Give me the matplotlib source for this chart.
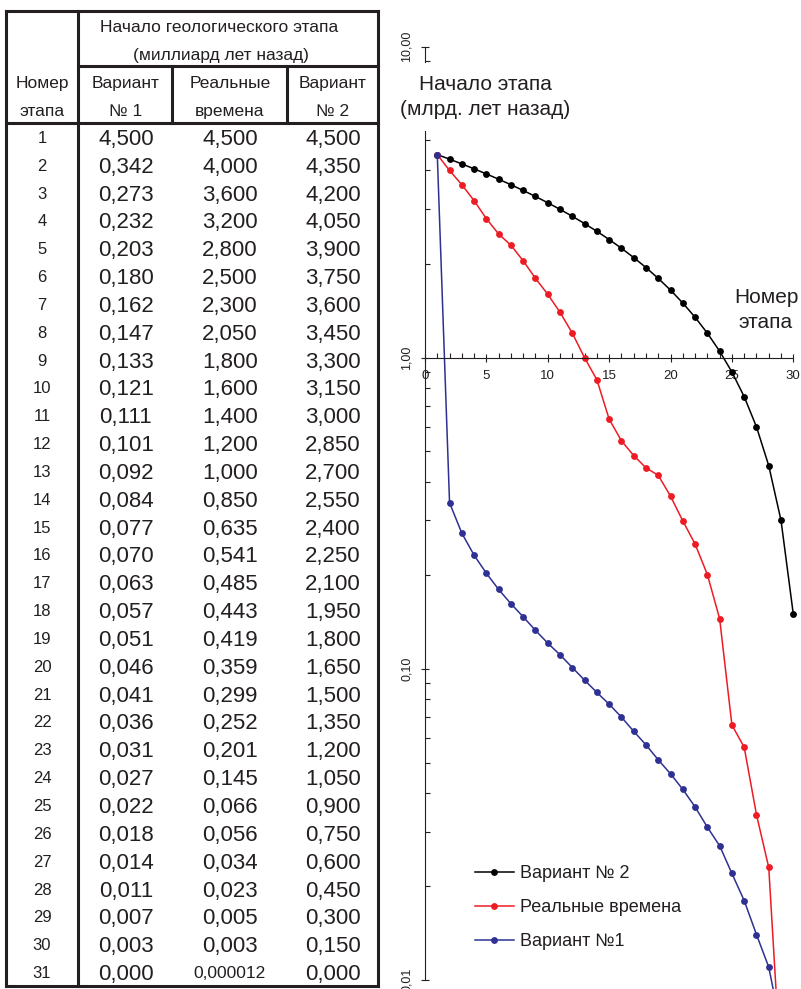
import numpy as np
import matplotlib
matplotlib.use('Agg')
import matplotlib.pyplot as plt
from matplotlib.ticker import FixedLocator, FixedFormatter, LogLocator, NullFormatter, MultipleLocator
from matplotlib.patches import Rectangle

plt.rcParams['font.family'] = ['Liberation Sans', 'DejaVu Sans']

# ---------------- data ----------------
steps = list(range(1, 32))
variant1 = [4.500, 0.342, 0.273, 0.232, 0.203, 0.180, 0.162, 0.147, 0.133, 0.121,
            0.111, 0.101, 0.092, 0.084, 0.077, 0.070, 0.063, 0.057, 0.051, 0.046,
            0.041, 0.036, 0.031, 0.027, 0.022, 0.018, 0.014, 0.011, 0.007, 0.003,
            0.000]
real_times = [4.500, 4.000, 3.600, 3.200, 2.800, 2.500, 2.300, 2.050, 1.800, 1.600,
              1.400, 1.200, 1.000, 0.850, 0.635, 0.541, 0.485, 0.443, 0.419, 0.359,
              0.299, 0.252, 0.201, 0.145, 0.066, 0.056, 0.034, 0.023, 0.005, 0.003,
              0.000012]
variant2 = [4.500, 4.350, 4.200, 4.050, 3.900, 3.750, 3.600, 3.450, 3.300, 3.150,
            3.000, 2.850, 2.700, 2.550, 2.400, 2.250, 2.100, 1.950, 1.800, 1.650,
            1.500, 1.350, 1.200, 1.050, 0.900, 0.750, 0.600, 0.450, 0.300, 0.150,
            0.000]

header_top = "Начало геологического этапа"
header_sub = "(миллиард лет назад)"
col_titles = [("Номер", "этапа"), ("Вариант", "№ 1"), ("Реальные", "времена"), ("Вариант", "№ 2")]
series_labels = ["Вариант № 2", "Реальные времена", "Вариант №1"]
series_colors = ['#000000', '#ed1c24', '#2e3192']
y_ticks = [0.01, 0.1, 1, 10]
y_tick_labels = ["0,01", "0,10", "1,00", "10,00"]
x_ticks = [0, 5, 10, 15, 20, 25, 30]
y_label = "Начало этапа\n(млрд. лет назад)"
x_label = "Номер\nэтапа"

ink = '#231f20'
W, H = 801, 989
fig = plt.figure(figsize=(W / 100, H / 100), dpi=100)

# ---------------- table ----------------
tb = fig.add_axes([0, 0, 1, 1])
tb.set_xlim(0, W)
tb.set_ylim(H, 0)
tb.axis('off')

lw = 2.2
def seg(x0, y0, x1, y1):
    tb.plot([x0, x1], [y0, y1], color=ink, lw=lw, solid_capstyle='projecting')

xl, xc1, xc2, xc3, xr = 6, 78, 172, 287, 378
yt, yh, yb, ybot = 11, 66, 123, 986
seg(xl, yt, xr, yt)
seg(xl, ybot, xr, ybot)
seg(xl, yt, xl, ybot)
seg(xr, yt, xr, ybot)
seg(xc1, yt, xc1, ybot)
seg(xc1, yh, xr, yh)
seg(xc2, yh, xc2, yb)
seg(xc3, yh, xc3, yb)
seg(xl, yb, xr, yb)

hfs = 12.5
tb.text(219, 32, header_top, ha='center', va='baseline', fontsize=hfs, color=ink)
tb.text(221, 60, header_sub, ha='center', va='baseline', fontsize=hfs, color=ink)
col_centers = [42, 126, 230, 333]
for cx, (l1, l2) in zip(col_centers, col_titles):
    tb.text(cx, 88, l1, ha='center', va='baseline', fontsize=hfs, color=ink)
    tb.text(cx, 116, l2, ha='center', va='baseline', fontsize=hfs, color=ink)

def fmt(v):
    s = f"{v:.3f}" if (v == 0 or v >= 0.0005) else f"{v:.6f}"
    return s.replace('.', ',')

row_h = (ybot - yb) / len(steps)
def base(center, fs):
    return center + 0.5 * 0.716 * fs * 100 / 72

for i, st in enumerate(steps):
    cy = yb + (i + 0.5) * row_h
    tb.text(col_centers[0], base(cy, 12), str(st), ha='center', va='baseline', fontsize=12, color=ink)
    for cx, arr in zip(col_centers[1:], [variant1, real_times, variant2]):
        v = arr[i]
        fs = 16 if (v == 0 or v >= 0.0005) else 12.5
        tb.text(cx, base(cy, fs), fmt(v), ha='center', va='baseline', fontsize=fs, color=ink)

# ---------------- chart ----------------
px0, px30 = 425.0, 793.3
ppu = (px30 - px0) / 30
y10_px, y001_px = 46.7, 980.0
ppd = (y001_px - y10_px) / 3
xmax = (W - px0) / ppu
ymin = 10 ** (-2 - (H - y001_px) / ppd)

ax = fig.add_axes([px0 / W, 0, (W - px0) / W, 1 - y10_px / H])
ax.patch.set_visible(False)
ax.set_yscale('log')
ax.set_xlim(0, xmax)
ax.set_ylim(ymin, 10)

def masked(a):
    a = np.array(a, dtype=float)
    a[a <= 0] = np.nan
    return a

for vals, col, lab in zip([variant2, real_times, variant1], series_colors, series_labels):
    ax.plot(steps, masked(vals), color=col, lw=1.1, marker='o', ms=3.9, label=lab)

for s in ['top', 'right']:
    ax.spines[s].set_visible(False)
ax.spines['bottom'].set_position(('data', 1))
ax.spines['bottom'].set_bounds(0, 30)
ax.spines['left'].set_bounds(0.01, 10)
for s in ['bottom', 'left']:
    ax.spines[s].set_linewidth(0.8)
    ax.spines[s].set_color(ink)

ax.xaxis.set_major_locator(FixedLocator(x_ticks))
ax.xaxis.set_minor_locator(MultipleLocator(1))
ax.yaxis.set_major_locator(FixedLocator(y_ticks))
ax.yaxis.set_major_formatter(FixedFormatter(y_tick_labels))
ax.yaxis.set_minor_locator(LogLocator(base=10, subs=range(2, 10)))
ax.yaxis.set_minor_formatter(NullFormatter())

ax.tick_params(axis='x', which='major', direction='inout', length=5.5, width=0.8,
               labelsize=9.5, pad=6, colors=ink)
ax.tick_params(axis='x', which='minor', direction='in', length=3.5, width=0.8, colors=ink)
ax.tick_params(axis='y', which='major', direction='inout', length=5.5, width=0.8,
               labelsize=9, pad=6, colors=ink, labelrotation=90)
ax.tick_params(axis='y', which='minor', direction='in', length=3.5, width=0.8, colors=ink)
for lbl in ax.get_yticklabels():
    lbl.set_va('center')

fig.add_artist(Rectangle((398 / W, 1 - 131 / H), (580 - 398) / W, (131 - 63) / H,
                         transform=fig.transFigure, facecolor='white', edgecolor='none', zorder=5))
fig.text(485 / W, 1 - 97 / H, y_label, ha='center', va='center', multialignment='center',
         fontsize=15, linespacing=1.4, color=ink, zorder=6)
fig.text(766 / W, 1 - 310 / H, x_label, ha='center', va='center', multialignment='center',
         fontsize=15, linespacing=1.35, color=ink, zorder=6)

ax.legend(loc='upper left', bbox_to_anchor=(475 / W, 1 - 865 / H), bbox_transform=fig.transFigure,
          frameon=False, fontsize=13, handlelength=2.15, handletextpad=0.35,
          labelspacing=0.95, borderpad=0, borderaxespad=0, labelcolor=ink)

fig.savefig('out.png', dpi=100)
